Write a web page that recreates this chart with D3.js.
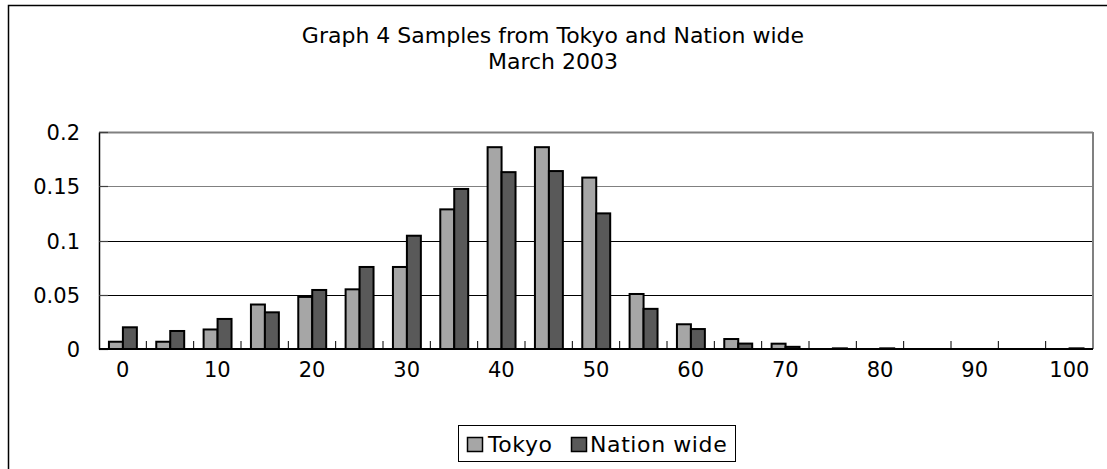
<!DOCTYPE html>
<html>
<head>
<meta charset="utf-8">
<script src="https://cdn.jsdelivr.net/npm/d3@7"></script>
<style>
html,body{margin:0;padding:0;background:#fff;}
svg{display:block;}
text{font-family:"DejaVu Sans",sans-serif;fill:#000;}
</style>
</head>
<body>
<svg id="chart" width="1107" height="469"></svg>
<script>
const categories = [0,5,10,15,20,25,30,35,40,45,50,55,60,65,70,75,80,85,90,95,100];
const tokyo = [0.0067,0.0067,0.018,0.041,0.048,0.055,0.0756,0.1287,0.186,0.186,0.158,0.0507,0.0228,0.0092,0.0049,0,0,0,0,0,0];
const nationWide = [0.020,0.0166,0.0277,0.0338,0.0544,0.0756,0.1044,0.1475,0.163,0.164,0.125,0.037,0.0184,0.005,0.002,0.0006,0.0006,0,0,0,0.0006];
const seriesNames = ["Tokyo","Nation wide"];
const seriesColors = ["#a6a6a6","#595959"];
const yTicks = [0,0.05,0.1,0.15,0.2];
const xTickLabels = [0,10,20,30,40,50,60,70,80,90,100];
const titleLines = ["Graph 4 Samples from Tokyo and Nation wide","March 2003"];

const svg = d3.select("#chart");
const L = 99, R = 1093, T = 132, B = 349;

// outer border
svg.append("rect").attr("x",8.5).attr("y",5.5).attr("width",1120).attr("height",480)
  .attr("fill","none").attr("stroke","#000").attr("stroke-width",1.5);

// titles
svg.append("text").attr("x",553).attr("y",43).attr("text-anchor","middle")
  .style("font-size","22px").text(titleLines[0]);
svg.append("text").attr("x",553).attr("y",69).attr("text-anchor","middle")
  .style("font-size","22px").text(titleLines[1]);

const x0 = d3.scaleBand().domain(categories).range([L,R]).paddingInner(0).paddingOuter(0);
const bw = x0.bandwidth();
const x1 = d3.scaleBand().domain(seriesNames).range([bw*0.21,bw*0.8]);
const y = d3.scaleLinear().domain([0,0.2]).range([B,T]);

// gridlines
const g = svg.append("g");
yTicks.filter(v=>v>0).forEach(v=>{
  g.append("line").attr("x1",L).attr("x2",R).attr("y1",Math.round(y(v))+0.5).attr("y2",Math.round(y(v))+0.5)
   .attr("stroke", (v===0.2||v===0.15)?"#808080":"#000").attr("stroke-width",v===0.2?2:1);
});
// right border
svg.append("line").attr("x1",R).attr("x2",R).attr("y1",T).attr("y2",B).attr("stroke","#808080").attr("stroke-width",2);

// bars
const data = categories.map((c,i)=>({c, vals:[tokyo[i],nationWide[i]]}));
const groups = svg.append("g").selectAll("g").data(data).join("g")
  .attr("transform",d=>`translate(${x0(d.c)},0)`);
groups.selectAll("rect").data(d=>d.vals.map((v,j)=>({v,name:seriesNames[j],j}))).join("rect")
  .filter(d=>d.v>0)
  .attr("x",d=>x1(d.name))
  .attr("width",x1.bandwidth())
  .attr("y",d=>y(d.v))
  .attr("height",d=>B-y(d.v))
  .attr("fill",d=>seriesColors[d.j])
  .attr("stroke","#000").attr("stroke-width",2);

// y axis
const yAxis = d3.axisLeft(y).tickValues(yTicks).tickSize(0).tickPadding(0).tickFormat(d=>d3.format("")(d));
const ya = svg.append("g").attr("transform",`translate(${L},0)`).call(yAxis);
ya.select(".domain").attr("stroke","#000").attr("stroke-width",1.5);
ya.selectAll("text").attr("x",-19).attr("dy","0.36em").style("font-size","21px").style("font-family","DejaVu Sans");

// left axis small ticks inward
yTicks.forEach(v=>{
  svg.append("line").attr("x1",L).attr("x2",L+9).attr("y1",Math.round(y(v))+0.5).attr("y2",Math.round(y(v))+0.5).attr("stroke","#404040").attr("stroke-width",1.2);
});

// x axis baseline
svg.append("line").attr("x1",L).attr("x2",R).attr("y1",B).attr("y2",B).attr("stroke","#000").attr("stroke-width",2);
// x ticks at category boundaries (pointing up)
categories.forEach((c,i)=>{
  if(i===0) return;
  const xx = x0(c);
  svg.append("line").attr("x1",xx).attr("x2",xx).attr("y1",B).attr("y2",B-8).attr("stroke","#000").attr("stroke-width",1);
});
// x labels
const xl = svg.append("g");
xTickLabels.forEach(v=>{
  xl.append("text").attr("x",x0(v)+bw/2).attr("y",377).attr("text-anchor","middle")
    .style("font-size","21px").text(v);
});

// legend
const lg = svg.append("g");
lg.append("rect").attr("x",458.5).attr("y",425.5).attr("width",277).attr("height",36)
  .attr("fill","#fff").attr("stroke","#000").attr("stroke-width",1);
const legendItems = [{x:467,tx:488},{x:571,tx:590}];
seriesNames.forEach((n,i)=>{
  lg.append("rect").attr("x",legendItems[i].x+0.5).attr("y",437.5).attr("width",15).attr("height",14)
    .attr("fill",seriesColors[i]).attr("stroke","#000").attr("stroke-width",1.5);
  lg.append("text").attr("x",legendItems[i].tx).attr("y",452).style("font-size","22px")
    .style("letter-spacing","0.6px").text(n);
});
</script>
</body>
</html>
